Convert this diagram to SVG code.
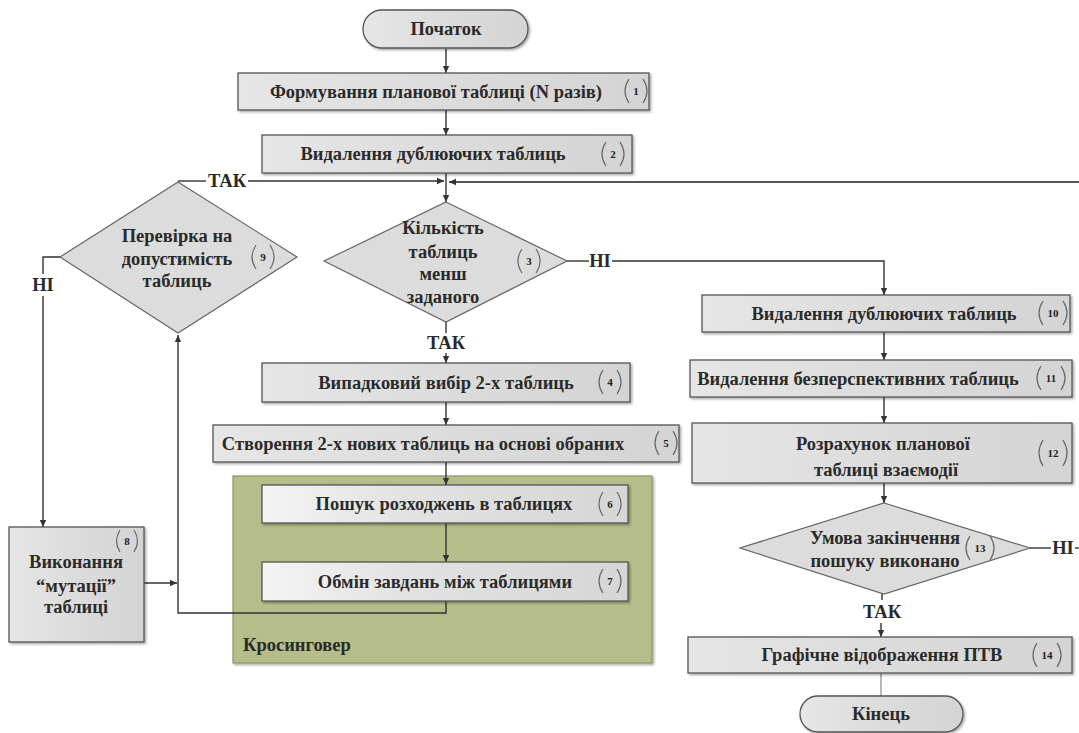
<svg xmlns="http://www.w3.org/2000/svg" width="1079" height="733" viewBox="0 0 1079 733">
<defs>
<linearGradient id="gbox" x1="0" y1="0" x2="1" y2="0">
<stop offset="0" stop-color="#e6e6e6"/>
<stop offset="0.5" stop-color="#dcdcdc"/>
<stop offset="1" stop-color="#d4d4d4"/>
</linearGradient>
<linearGradient id="gbox2" x1="0" y1="0" x2="1" y2="0">
<stop offset="0" stop-color="#f4f4f4"/>
<stop offset="0.4" stop-color="#e2e2e2"/>
<stop offset="1" stop-color="#d6d6d6"/>
</linearGradient>
<filter id="sh" x="-5%" y="-10%" width="110%" height="130%">
<feDropShadow dx="1.5" dy="1.5" stdDeviation="1" flood-color="#000" flood-opacity="0.35"/>
</filter>
<marker id="ah" markerWidth="8" markerHeight="8" refX="7" refY="4" orient="auto" markerUnits="userSpaceOnUse">
<path d="M0,0.8 L7,4 L0,7.2 Z" fill="#333"/>
</marker>
</defs>
<style>
.box{fill:url(#gbox);stroke:#555;stroke-width:1.3;filter:url(#sh)}
.box2{fill:url(#gbox2);stroke:#555;stroke-width:1.3;filter:url(#sh)}
.dia{fill:#dcdcdc;stroke:#666;stroke-width:1.2}
.t{font-family:"Liberation Serif","Times New Roman",serif;font-size:18.5px;font-weight:bold;fill:#2a2a2a;text-anchor:middle}
.n{font-family:"Liberation Serif","Times New Roman",serif;font-size:11px;font-weight:bold;fill:#222;text-anchor:middle}
.lb{font-family:"Liberation Serif","Times New Roman",serif;font-size:18.5px;font-weight:bold;fill:#2a2a2a;text-anchor:middle}
.par{fill:none;stroke:#666;stroke-width:1.2}
.c{fill:none;stroke:#333;stroke-width:1.4}
.ca{fill:none;stroke:#333;stroke-width:1.4;marker-end:url(#ah)}
.thin{fill:none;stroke:#888;stroke-width:1.2}
</style>
<rect width="1079" height="733" fill="#fff"/>

<g id="crossover">
<rect x="233" y="476" width="419" height="187" fill="#b5be8a" stroke="#8d9668" stroke-width="1.2" filter="url(#sh)"/>
<text x="243" y="651" class="t" style="text-anchor:start">Кросинговер</text>
</g>

<g id="connectors">
<line class="ca" x1="446" y1="49" x2="446" y2="73"/>
<line class="ca" x1="446" y1="110" x2="446" y2="135"/>
<line class="ca" x1="446" y1="173" x2="446" y2="202"/>
<line class="c" x1="178" y1="181" x2="206" y2="181"/>
<line class="ca" x1="248" y1="181" x2="444" y2="181"/>
<line x1="1079" y1="182" x2="449" y2="182" stroke="#555" stroke-width="1.8" marker-end="url(#ah)"/>
<line class="c" x1="567" y1="261" x2="589" y2="261"/>
<polyline class="ca" points="612,261 884,261 884,295"/>
<line class="c" x1="446" y1="322" x2="446" y2="333"/>
<line class="ca" x1="446" y1="353" x2="446" y2="363"/>
<line class="ca" x1="446" y1="402" x2="446" y2="425"/>
<line class="ca" x1="446" y1="462" x2="446" y2="485"/>
<line class="ca" x1="446" y1="523" x2="446" y2="562"/>
<polyline class="ca" points="446,601 446,613 178,613 178,335"/>
<polyline class="c" points="60,257 43,257 43,274"/>
<line class="ca" x1="43" y1="296" x2="43" y2="527"/>
<line class="ca" x1="144" y1="583" x2="177" y2="583"/>
<line class="ca" x1="884" y1="332" x2="884" y2="360"/>
<line class="ca" x1="884" y1="397" x2="884" y2="423"/>
<line class="ca" x1="884" y1="483" x2="884" y2="503"/>
<line class="c" x1="1030" y1="548" x2="1051" y2="548"/>
<line class="c" x1="1075" y1="548" x2="1079" y2="548"/>
<line class="c" x1="882" y1="594" x2="882" y2="600"/>
<line class="ca" x1="881" y1="623" x2="881" y2="637"/>
<line class="thin" x1="881" y1="673" x2="881" y2="696"/>
<text x="227" y="187" class="lb">ТАК</text>
<text x="600" y="267" class="lb">НІ</text>
<text x="446" y="349" class="lb">ТАК</text>
<text x="43" y="291" class="lb">НІ</text>
<text x="1063" y="554" class="lb">НІ</text>
<text x="882" y="618" class="lb">ТАК</text>
</g>

<g id="start">
<rect x="363" y="10" width="165" height="38" rx="19" class="box"/>
<text x="446" y="35" class="t">Початок</text>
</g>

<g id="n1">
<rect x="238" y="73" width="411" height="37" class="box"/>
<text x="436" y="98" class="t">Формування планової таблиці (N разів)</text>
<path class="par" d="M629,79 Q621,91 629,103 M643,79 Q651,91 643,103"/>
<text x="636" y="95" class="n">1</text>
</g>

<g id="n2">
<rect x="262" y="135" width="370" height="38" class="box"/>
<text x="433" y="160" class="t">Видалення дублюючих таблиць</text>
<path class="par" d="M606,142 Q598,154 606,166 M620,142 Q628,154 620,166"/>
<text x="613" y="158" class="n">2</text>
</g>

<g id="n3">
<polygon points="446,202 567,261 446,322 324,261" class="dia"/>
<text x="443" y="234" class="t">Кількість</text>
<text x="443" y="258" class="t">таблиць</text>
<text x="443" y="280" class="t">менш</text>
<text x="443" y="303" class="t">заданого</text>
<path class="par" d="M522,249 Q514,261 522,273 M536,249 Q544,261 536,273"/>
<text x="529" y="265" class="n">3</text>
</g>

<g id="n9">
<polygon points="178,182 297,257 178,333 60,257" class="dia"/>
<text x="177" y="242" class="t">Перевірка на</text>
<text x="177" y="265" class="t">допустимість</text>
<text x="177" y="287" class="t">таблиць</text>
<path class="par" d="M256,245 Q248,257 256,269 M270,245 Q278,257 270,269"/>
<text x="263" y="261" class="n">9</text>
</g>

<g id="n4">
<rect x="262" y="363" width="368" height="39" class="box"/>
<text x="446" y="389" class="t">Випадковий вибір 2-х таблиць</text>
<path class="par" d="M603,370 Q595,382 603,394 M617,370 Q625,382 617,394"/>
<text x="610" y="386" class="n">4</text>
</g>

<g id="n5">
<rect x="213" y="425" width="466" height="37" class="box"/>
<text x="423" y="450" class="t">Створення 2-х нових таблиць на основі обраних</text>
<path class="par" d="M659,431 Q651,443 659,455 M673,431 Q681,443 673,455"/>
<text x="666" y="447" class="n">5</text>
</g>

<g id="n6">
<rect x="262" y="485" width="366" height="38" class="box2"/>
<text x="444" y="510" class="t">Пошук розходжень в таблицях</text>
<path class="par" d="M603,492 Q595,504 603,516 M617,492 Q625,504 617,516"/>
<text x="610" y="508" class="n">6</text>
</g>

<g id="n7">
<rect x="262" y="562" width="366" height="39" class="box2"/>
<text x="445" y="588" class="t">Обмін завдань між таблицями</text>
<path class="par" d="M603,569 Q595,581 603,593 M617,569 Q625,581 617,593"/>
<text x="610" y="585" class="n">7</text>
</g>

<g id="n8">
<rect x="9" y="527" width="135" height="115" class="box"/>
<text x="76" y="568" class="t">Виконання</text>
<text x="76" y="592" class="t">“мутації”</text>
<text x="76" y="613" class="t">таблиці</text>
<path class="par" d="M120,530 Q113,541 120,552 M134,530 Q141,541 134,552"/>
<text x="127" y="545" class="n">8</text>
</g>

<g id="n10">
<rect x="702" y="295" width="368" height="37" class="box"/>
<text x="884" y="320" class="t">Видалення дублюючих таблиць</text>
<path class="par" d="M1043,301 Q1035,313 1043,325 M1063,301 Q1071,313 1063,325"/>
<text x="1053" y="317" class="n">10</text>
</g>

<g id="n11">
<rect x="690" y="360" width="382" height="37" class="box"/>
<text x="858" y="385" class="t">Видалення безперспективних таблиць</text>
<path class="par" d="M1041,366 Q1033,378 1041,390 M1061,366 Q1069,378 1061,390"/>
<text x="1051" y="382" class="n">11</text>
</g>

<g id="n12">
<rect x="692" y="423" width="380" height="60" class="box"/>
<text x="883" y="450" class="t">Розрахунок  планової</text>
<text x="886" y="476" class="t">таблиці взаємодії</text>
<path class="par" d="M1043,440 Q1035,453 1043,466 M1063,440 Q1071,453 1063,466"/>
<text x="1053" y="457" class="n">12</text>
</g>

<g id="n13">
<polygon points="884,503 1030,548 884,594 740,548" class="dia"/>
<text x="885" y="544" class="t">Умова закінчення</text>
<text x="885" y="567" class="t">пошуку виконано</text>
<path class="par" d="M970,536 Q962,548 970,560 M990,536 Q998,548 990,560"/>
<text x="980" y="552" class="n">13</text>
</g>

<g id="n14">
<rect x="688" y="637" width="384" height="36" class="box"/>
<text x="882" y="661" class="t">Графічне відображення ПТВ</text>
<path class="par" d="M1037,643 Q1029,655 1037,667 M1057,643 Q1065,655 1057,667"/>
<text x="1047" y="659" class="n">14</text>
</g>

<g id="end">
<rect x="800" y="696" width="163" height="36" rx="18" class="box"/>
<text x="881" y="720" class="t">Кінець</text>
</g>
</svg>
